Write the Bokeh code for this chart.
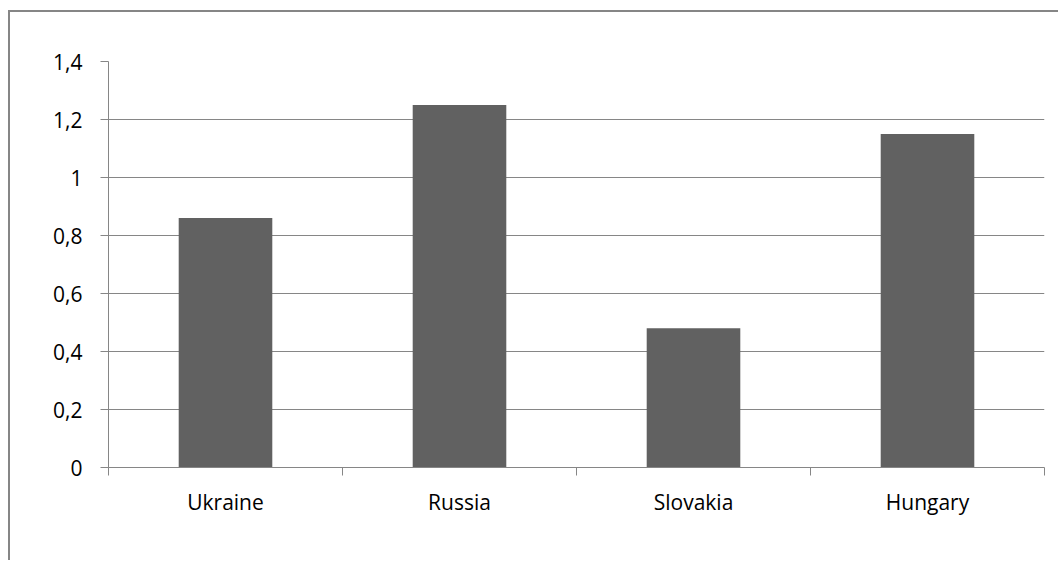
from bokeh.plotting import figure
from bokeh.models import FixedTicker, CustomJSTickFormatter, ColumnDataSource
from bokeh.embed import file_html
from bokeh.resources import INLINE

categories = ["Ukraine", "Russia", "Slovakia", "Hungary"]
values = [0.86, 1.25, 0.48, 1.15]
y_ticks = [0, 0.2, 0.4, 0.6, 0.8, 1.0, 1.2, 1.4]

xs = [i + 0.5 for i in range(len(categories))]
src = ColumnDataSource(dict(x=xs, top=values, name=categories))

GRAY = "#868686"
FONT = "Open Sans"

p = figure(width=1050, height=550, output_backend="svg", toolbar_location=None,
           x_range=(0, len(categories)), y_range=(0, 1.4),
           min_border_left=98, min_border_right=16, min_border_top=49, min_border_bottom=95)
p.styles = {"margin-left": "8px", "margin-top": "10px",
            "border-left": "2px solid " + GRAY, "border-top": "2px solid " + GRAY}
p.outline_line_color = None
p.background_fill_color = "white"
p.border_fill_color = "white"

p.vbar(x="x", top="top", width=0.4, bottom=0, source=src, fill_color="#616161", line_color=None)

# y axis
p.yaxis.ticker = FixedTicker(ticks=y_ticks, minor_ticks=[])
p.yaxis.formatter = CustomJSTickFormatter(code="return (Math.round(tick*10)/10).toString().replace('.', ',');")
p.yaxis.axis_line_color = GRAY
p.yaxis.major_tick_line_color = GRAY
p.yaxis.major_tick_out = 8
p.yaxis.major_tick_in = 0
p.yaxis.minor_tick_line_color = None
p.yaxis.major_label_text_font = FONT
p.yaxis.major_label_text_font_size = "21px"
p.yaxis.major_label_text_color = "black"
p.yaxis.major_label_standoff = 18

# x axis
p.xaxis.ticker = FixedTicker(ticks=xs, minor_ticks=list(range(len(categories) + 1)))
p.xaxis.major_label_overrides = {x: c for x, c in zip(xs, categories)}
p.xaxis.axis_line_color = GRAY
p.xaxis.major_tick_line_color = None
p.xaxis.major_tick_out = 0
p.xaxis.major_tick_in = 0
p.xaxis.minor_tick_line_color = GRAY
p.xaxis.minor_tick_out = 8
p.xaxis.minor_tick_in = 0
p.xaxis.major_label_text_font = FONT
p.xaxis.major_label_text_font_size = "21px"
p.xaxis.major_label_text_color = "black"
p.xaxis.major_label_standoff = 12

p.xgrid.grid_line_color = None
p.ygrid.ticker = FixedTicker(ticks=y_ticks)
p.ygrid.grid_line_color = GRAY
p.ygrid.grid_line_width = 1

open("out.html", "w").write(file_html(p, INLINE))
